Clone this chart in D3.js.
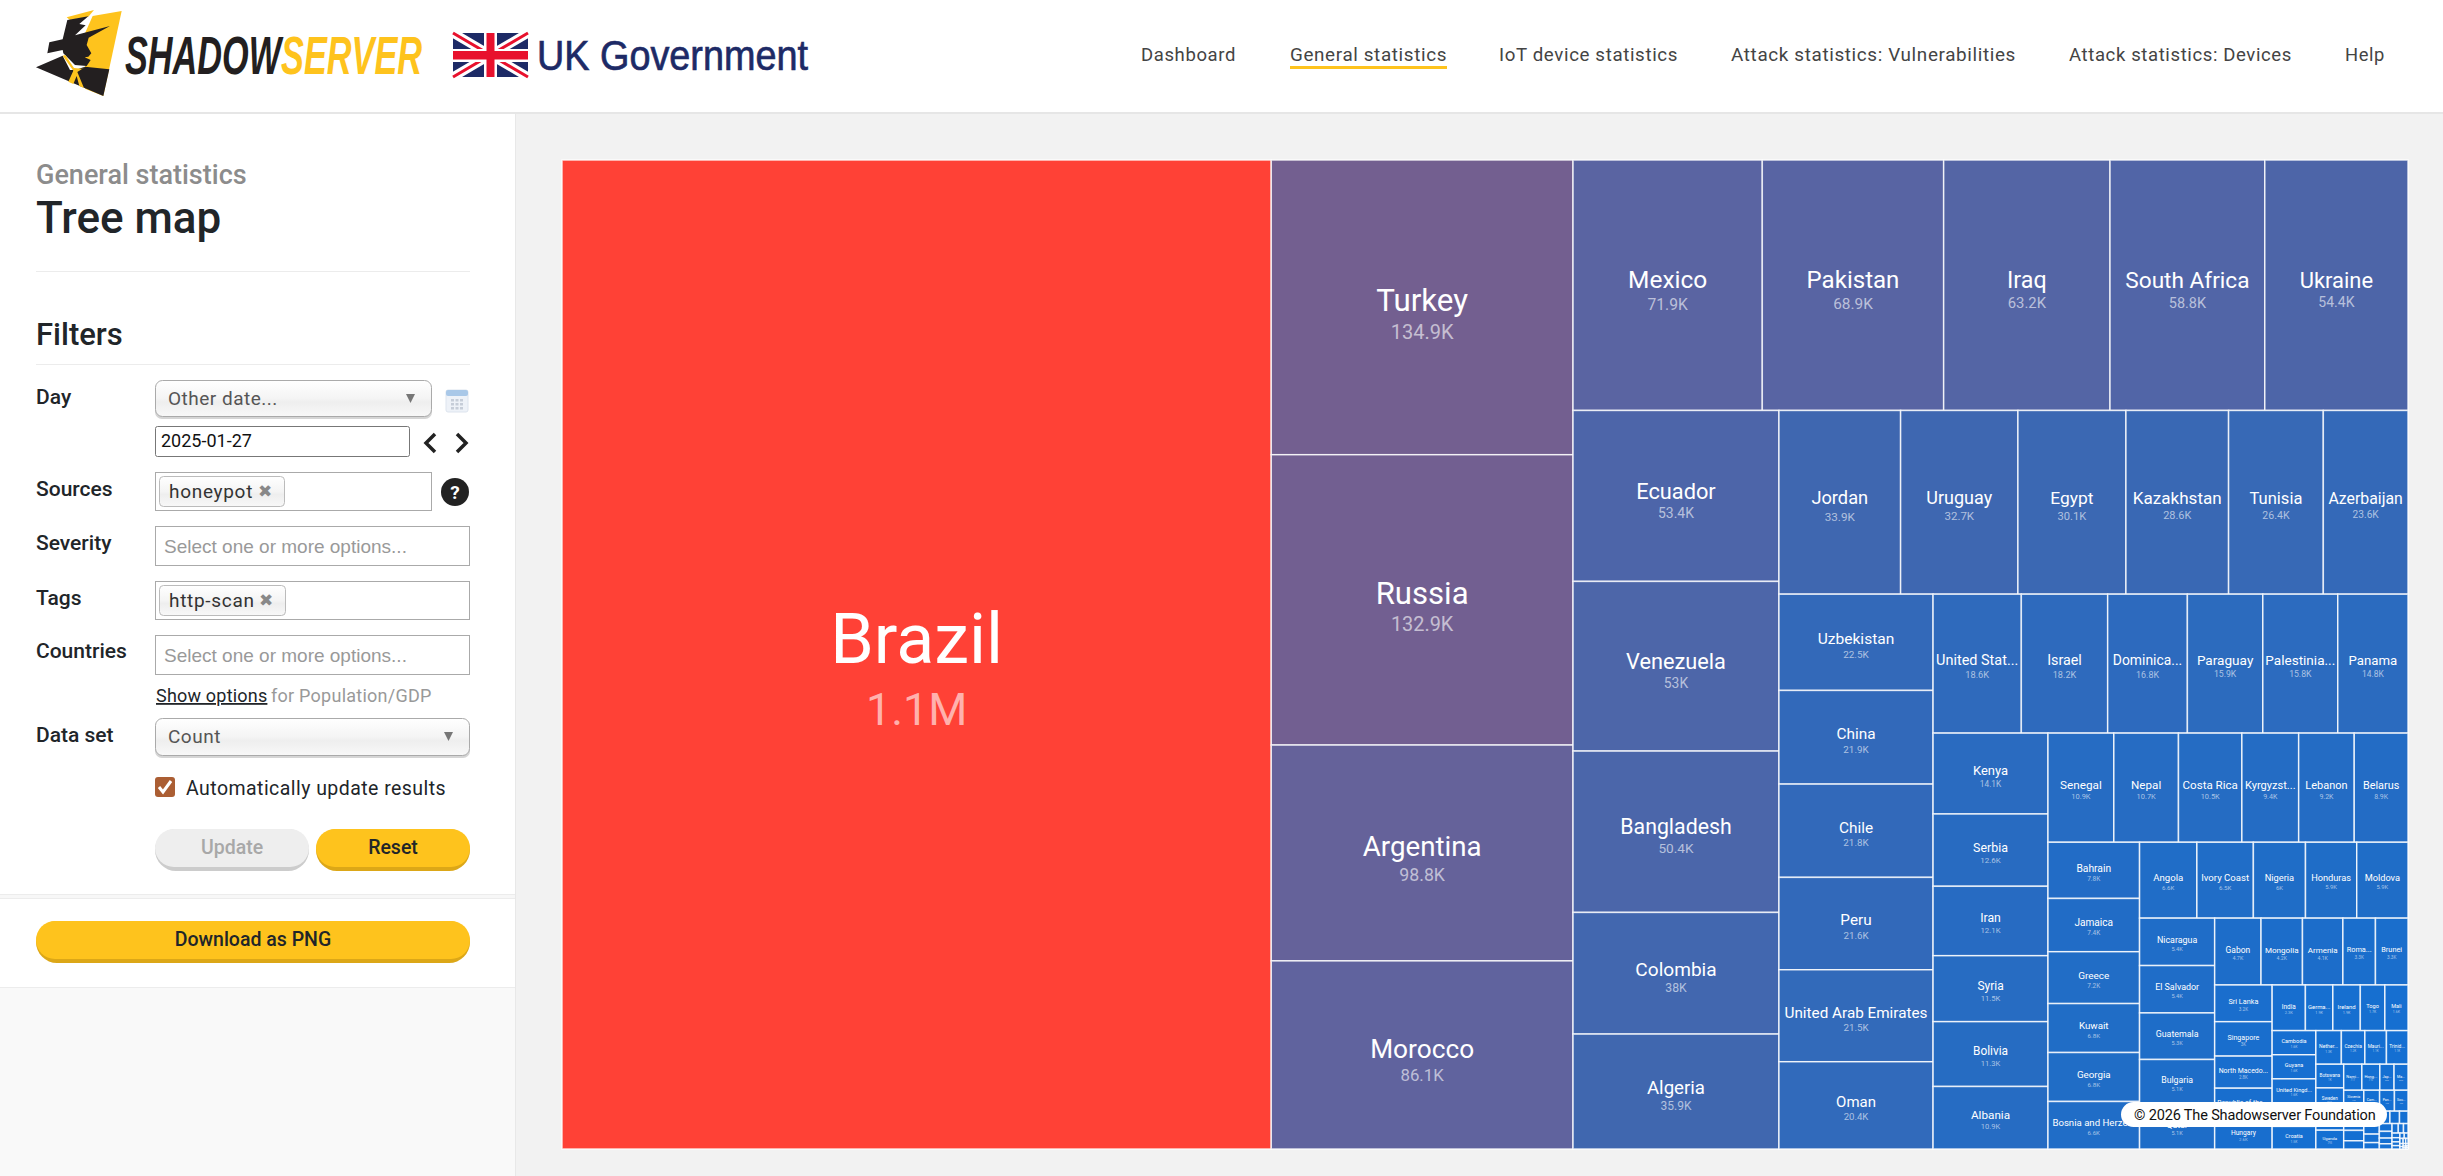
<!DOCTYPE html>
<html>
<head>
<meta charset="utf-8">
<title>Tree map</title>
<script src="https://cdn.jsdelivr.net/npm/d3@7"></script>
<style>
  html, body { margin: 0; padding: 0; background: #f2f2f2; overflow: hidden; }
  svg { display: block; }
  text { font-family: Roboto, sans-serif; }
</style>
</head>
<body>
<div id="page"></div>
<script>
const countries = [
  'Brazil', 'Turkey', 'Russia', 'Argentina', 'Morocco',
  'Mexico', 'Pakistan', 'Iraq', 'South Africa', 'Ukraine',
  'Ecuador', 'Venezuela', 'Bangladesh', 'Colombia', 'Algeria',
  'Jordan', 'Uruguay', 'Egypt', 'Kazakhstan', 'Tunisia', 'Azerbaijan',
  'Uzbekistan', 'China', 'Chile', 'Peru', 'United Arab Emirates', 'Oman',
  'United States', 'Israel', 'Dominican Republic', 'Paraguay', 'Palestinian Territory', 'Panama',
  'Kenya', 'Serbia', 'Iran', 'Syria', 'Bolivia', 'Albania',
  'Senegal', 'Nepal', 'Costa Rica', 'Kyrgyzstan', 'Lebanon', 'Belarus',
  'Bahrain', 'Jamaica', 'Greece', 'Kuwait', 'Georgia', 'Bosnia and Herzegovina',
  'Angola', 'Ivory Coast', 'Nigeria', 'Honduras', 'Moldova',
  'Nicaragua', 'El Salvador', 'Guatemala', 'Bulgaria', 'Qatar',
  'Gabon', 'Mongolia', 'Armenia', 'Romania', 'Brunei',
  'Sri Lanka', 'Singapore', 'North Macedonia', 'Republic of the Congo', 'Hungary',
  'India', 'Germany', 'Ireland', 'Togo', 'Mali',
  'Cambodia', 'Guyana', 'United Kingdom', 'Ghana', 'Croatia',
  'Netherlands', 'Czechia', 'Mauritius', 'Trinidad and Tobago',
  'Botswana', 'Sweden', 'Zambia', 'Uganda', 'Namibia',
  'Hong Kong', 'Japan', 'Malta', 'Slovenia',
  'Australia', 'Italy', 'Spain', 'Indonesia',
  'Cameroon', 'Panama City', 'South Korea',
  'Zimbabwe', 'Tanzania', 'Mozambique', 'Laos',
  'Latvia', 'Lithuania', 'Estonia',
  'Poland', 'France', 'Canada', 'Thailand', 'Vietnam', 'Taiwan', 'Malaysia', 'Philippines',
  'Portugal', 'Cyprus', 'Finland', 'Norway', 'Denmark', 'Belgium', 'Austria', 'Switzerland',
  'Iceland', 'Luxembourg', 'Fiji', 'Monaco', 'Andorra', 'Bhutan', 'Tonga', 'Samoa', 'Palau', 'Tuvalu',
];

const counts = [
  1064000, 134900, 132900, 98800, 86100,
  71900, 68900, 63200, 58800, 54400,
  53400, 53000, 50400, 38000, 35900,
  33900, 32700, 30100, 28600, 26400, 23600,
  22500, 21900, 21800, 21600, 21500, 20400,
  18600, 18200, 16800, 15900, 15800, 14800,
  14100, 12600, 12100, 11500, 11300, 10900,
  10900, 10700, 10500, 9400, 9200, 8900,
  7800, 7400, 7200, 6800, 6800, 6600,
  6600, 6500, 6000, 5900, 5900,
  5400, 5400, 5300, 5100, 5100,
  4700, 4200, 4100, 3300, 3300,
  3200, 3000, 2800, 2700, 2600,
  2300, 1900, 1900, 1700, 1600,
  1600, 1600, 1600, 1550, 1500,
  1300, 1200, 1100, 1100,
  1000, 955, 830, 793, 717,
  710, 560, 550, 470,
  480, 275, 318, 250,
  500, 470, 430,
  290, 250, 200, 150,
  200, 180, 160,
  150, 130, 110, 100, 90, 75, 65, 55,
  50, 45, 40, 35, 30, 25, 20, 18,
  15, 12, 10, 8, 6, 5, 4, 3, 2, 1,
];

const navItems = ['Dashboard', 'General statistics', 'IoT device statistics', 'Attack statistics: Vulnerabilities', 'Attack statistics: Devices', 'Help'];
const navStarts = [1141, 1290, 1499, 1731, 2069, 2345];
const navEnds = [1236, 1447, 1678, 2016, 2292, 2385];

const width = 2443;
const height = 1176;
const chart = { x: 562, y: 160, w: 1846, h: 989 };
const sans = 'Roboto, sans-serif';

const svg = d3.select('#page').append('svg')
  .attr('width', width)
  .attr('height', height);

const addText = (parent, str, x, y, size, color, opts = {}) => parent.append('text')
  .attr('x', x)
  .attr('y', y)
  .attr('fill', color)
  .attr('text-anchor', opts.anchor || 'start')
  .style('font-family', opts.family || sans)
  .style('font-size', `${size}px`)
  .style('font-weight', opts.weight || 400)
  .style('letter-spacing', opts.spacing || '0')
  .text(str);

const addRect = (parent, x, y, w, h, fill, stroke, r = 0) => parent.append('rect')
  .attr('x', x)
  .attr('y', y)
  .attr('width', w)
  .attr('height', h)
  .attr('rx', r)
  .attr('fill', fill)
  .attr('stroke', stroke || 'none');

// page background
addRect(svg, 0, 0, width, height, '#f2f2f2');
addRect(svg, 0, 113, 515, height - 113, '#ffffff');
addRect(svg, 0, 987, 515, height - 987, '#f9f9f9');
addRect(svg, 0, 894, 515, 4, '#f7f7f7');
addRect(svg, 0, 894, 515, 1, '#ececec');
addRect(svg, 0, 898, 515, 1, '#ececec');
addRect(svg, 0, 987, 515, 1, '#ececec');
addRect(svg, 515, 113, 1, height - 113, '#e8e8e8');
addRect(svg, 0, 0, width, 112, '#ffffff');
addRect(svg, 0, 112, width, 2, '#e6e6e6');

// logo
const logo = svg.append('g').attr('transform', 'translate(20,0) scale(0.3333)');
logo.append('path').attr('fill', '#fec31d')
  .attr('d', 'M218 48L305 33L250 288L195 266L195 100Z');
logo.append('path').attr('fill', '#fec31d')
  .attr('d', 'M140 52L222 30L205 50L150 60Z');
logo.append('path').attr('fill', '#231f20')
  .attr('d', 'M142 60L205 49L178 72L197 76L165 106L270 78L206 113L200 135L214 160L205 170L194 172L212 180L200 198L165 195L130 160L128 150L82 160L88 127L128 118Z');
logo.append('path').attr('fill', '#231f20')
  .attr('d', 'M48 202L128 167L150 210L165 210L195 200L268 208L250 288Z');
logo.append('path').attr('fill', '#fec31d')
  .attr('d', 'M128 167L136 165L162 204L186 206L200 198L172 216L192 264L178 258L170 228L160 252L145 245L160 212Z');

const wordmark = addText(svg, '', 125, 74, 53, '#231f20', { family: '"Liberation Sans Narrow", "Liberation Sans"', weight: 700 })
  .style('font-style', 'italic')
  .attr('textLength', 297)
  .attr('lengthAdjust', 'spacingAndGlyphs');
wordmark.append('tspan').text('SHADOW');
wordmark.append('tspan').attr('fill', '#fec31d').text('SERVER');

// union flag
const flag = svg.append('g').attr('transform', 'translate(453,33)');
addRect(flag, 0, 0, 75, 44, '#1d2a66');
flag.append('path').attr('d', 'M0 0L75 44M75 0L0 44').attr('stroke', '#fff').attr('stroke-width', 9);
flag.append('path').attr('d', 'M0 0L75 44M75 0L0 44').attr('stroke', '#e8112d').attr('stroke-width', 3);
addRect(flag, 31, 0, 13, 44, '#fff');
addRect(flag, 0, 16, 75, 13, '#fff');
addRect(flag, 33.5, 0, 8, 44, '#e8112d');
addRect(flag, 0, 18, 75, 8.5, '#e8112d');
addText(svg, 'UK Government', 537, 70, 43, '#1d2a66', { family: '"Liberation Sans"' })
  .attr('stroke', '#1d2a66')
  .attr('stroke-width', 0.7)
  .attr('textLength', 271)
  .attr('lengthAdjust', 'spacingAndGlyphs');

// nav
navItems.forEach((item, i) => {
  addText(svg, item, navStarts[i], 61, 18, '#444', { spacing: '0.6px' })
    .attr('textLength', navEnds[i] - navStarts[i])
    .attr('lengthAdjust', 'spacingAndGlyphs');
});
addRect(svg, 1290, 66, 157, 3, '#fec31d');

// sidebar
const side = svg.append('g');
addText(side, 'General statistics', 36, 184, 27, '#8c8c8c', { weight: 500 });
addText(side, 'Tree map', 36, 233, 44, '#212529', { weight: 500 });
addRect(side, 36, 271, 434, 1, '#ececec');
addText(side, 'Filters', 36, 345, 31, '#212529', { weight: 500 });
addRect(side, 36, 364, 434, 1, '#ececec');

[['Day', 404], ['Sources', 496], ['Severity', 550], ['Tags', 605], ['Countries', 658], ['Data set', 742]]
  .forEach(([label, y]) => addText(side, label, 36, y, 21, '#212529', { weight: 500 }));

const grad = svg.append('defs').append('linearGradient')
  .attr('id', 'selectFill')
  .attr('x1', 0).attr('x2', 0)
  .attr('y1', 0).attr('y2', 1);
grad.append('stop').attr('offset', '0%').attr('stop-color', '#fff');
grad.append('stop').attr('offset', '50%').attr('stop-color', '#f4f4f4');
grad.append('stop').attr('offset', '60%').attr('stop-color', '#eeeeee');
grad.append('stop').attr('offset', '100%').attr('stop-color', '#f8f8f8');

const addSelect = (x, y, w, h, label) => {
  addRect(side, x, y + 2, w, h, '#d5d5d5', null, 7);
  addRect(side, x + 0.5, y + 0.5, w - 1, h - 1, 'url(#selectFill)', '#aaa', 7);
  addText(side, label, x + 13, y + 25, 19, '#555', { spacing: '0.5px' });
  side.append('path')
    .attr('d', `M${x + w - 26} ${y + 14}h9l-4.5 9z`)
    .attr('fill', '#777');
};

const addBox = (y, h, w) => {
  addRect(side, 155.5, y + 0.5, w - 1, h - 1, '#fff', '#aaa');
};

const addTag = (y, w, label) => {
  addRect(side, 159.5, y + 0.5, w, 30, 'url(#selectFill)', '#bbb', 4);
  addText(side, label, 169, y + 22, 19, '#333', { spacing: '0.7px' });
  addText(side, '\u2716', 159 + w - 26, y + 21, 17, '#888', { family: '"DejaVu Sans"' });
};

addSelect(155, 380, 277, 37, 'Other date...');

// calendar icon
addRect(side, 446, 390, 22, 22, '#eef2f8', '#dde4ee', 2);
addRect(side, 446, 390, 22, 6, '#a9c8e8', null, 2);
d3.range(3).forEach((row) => d3.range(3).forEach((col) => {
  addRect(side, 451 + col * 4.5, 399 + row * 4, 3, 2.5, '#c6cdd8');
}));

addRect(side, 155.5, 426.5, 254, 30, '#fff', '#777', 2);
addText(side, '2025-01-27', 161, 447, 18, '#111');
side.append('path').attr('d', 'M435 434L426 443L435 452').attr('fill', 'none').attr('stroke', '#222').attr('stroke-width', 3.5);
side.append('path').attr('d', 'M457 434L466 443L457 452').attr('fill', 'none').attr('stroke', '#222').attr('stroke-width', 3.5);

addBox(472, 39, 277);
addTag(476, 125, 'honeypot');
side.append('circle').attr('cx', 455).attr('cy', 492).attr('r', 14).attr('fill', '#222');
addText(side, '?', 455, 499, 19, '#fff', { anchor: 'middle', weight: 700 });

addBox(526, 40, 315);
addText(side, 'Select one or more options...', 164, 553, 19, '#999', { family: '"Liberation Sans"' });

addBox(581, 39, 315);
addTag(585, 126, 'http-scan');

addBox(635, 40, 315);
addText(side, 'Select one or more options...', 164, 662, 19, '#999', { family: '"Liberation Sans"' });

addText(side, 'Show options', 156, 702, 18, '#212529', { spacing: '0.2px' })
  .style('text-decoration', 'underline');
addText(side, 'for Population/GDP', 271, 702, 18, '#999', { spacing: '0.25px' });

addSelect(155, 718, 315, 38, 'Count');

addRect(side, 155, 777, 20, 20, '#ab5e33', null, 3);
side.append('path').attr('d', 'M159 787L163 792L171 781').attr('fill', 'none').attr('stroke', '#fff').attr('stroke-width', 3);
addText(side, 'Automatically update results', 186, 795, 19.5, '#212529', { spacing: '0.45px' });

const addButton = (x, y, w, label, fill, edge, color) => {
  addRect(side, x, y, w, 42, edge, null, 21);
  addRect(side, x, y, w, 38, fill, null, 19);
  addText(side, label, x + w / 2, y + 25, 19.5, color, { anchor: 'middle', weight: 500 });
};
addButton(155, 829, 154, 'Update', '#eeeeee', '#cccccc', '#a8a8a8');
addButton(316, 829, 154, 'Reset', '#fec31d', '#dca717', '#212529');
addButton(36, 921, 434, 'Download as PNG', '#fec31d', '#dca717', '#212529');

// treemap
const root = d3.hierarchy({
  children: countries.map((name, i) => ({ name, value: counts[i] })),
}).sum((d) => d.value);

d3.treemap()
  .tile(d3.treemapSquarify)
  .size([chart.w, chart.h])(root);

const color = d3.scaleLinear()
  .domain([1000, 5000, 14000, 34000, 72000, 135000, 1064000])
  .range(['#146fd2', '#1e6dc8', '#2a6bc0', '#3f67b0', '#5a64a2', '#735f90', '#ff4136'])
  .clamp(true);

const fontSize = d3.scalePow().exponent(0.39)
  .domain([0, 1064000])
  .range([0, 70]);

const formatCount = (v) => {
  if (v >= 1e6) return `${+(v / 1e6).toFixed(1)}M`;
  if (v >= 1e3) return `${+(v / 1e3).toFixed(1)}K`;
  return `${v}`;
};

const map = svg.append('g')
  .attr('transform', `translate(${chart.x},${chart.y})`);

const cells = map.selectAll('g')
  .data(root.leaves())
  .join('g')
  .attr('transform', (d) => `translate(${d.x0},${d.y0})`);

cells.append('rect')
  .attr('width', (d) => d.x1 - d.x0)
  .attr('height', (d) => d.y1 - d.y0)
  .attr('fill', (d) => color(d.data.value))
  .attr('stroke', '#fff')
  .attr('stroke-opacity', 0.8)
  .attr('stroke-width', 1.5);

// names that do not fit get cut, value stays below
cells.filter((d) => d.data.value >= 400).each(function (d) {
  const g = d3.select(this);
  const w = d.x1 - d.x0;
  const h = d.y1 - d.y0;
  const size = fontSize(d.data.value);
  const name = g.append('text')
    .attr('x', w / 2)
    .attr('y', h / 2 + size * 0.12)
    .attr('text-anchor', 'middle')
    .attr('fill', '#fff')
    .style('font-size', `${size}px`)
    .text(d.data.name);
  let str = d.data.name;
  while (name.node().getComputedTextLength() > w - 5 && str.length > 1) {
    str = str.slice(0, -1);
    name.text(`${str}...`);
  }
  g.append('text')
    .attr('x', w / 2)
    .attr('y', h / 2 + size * 0.12 + size * 0.88)
    .attr('text-anchor', 'middle')
    .attr('fill', '#fff')
    .attr('fill-opacity', 0.6)
    .style('font-size', `${size * 0.64}px`)
    .text(formatCount(d.data.value));
});

// copyright pill
addRect(svg, 2121, 1102, 266, 25, '#fff', null, 12.5);
addText(svg, '\u00a9 2026 The Shadowserver Foundation', 2134, 1120, 14.5, '#111', { spacing: '0.3px' })
  .attr('textLength', 242)
  .attr('lengthAdjust', 'spacing');
</script>
</body>
</html>
